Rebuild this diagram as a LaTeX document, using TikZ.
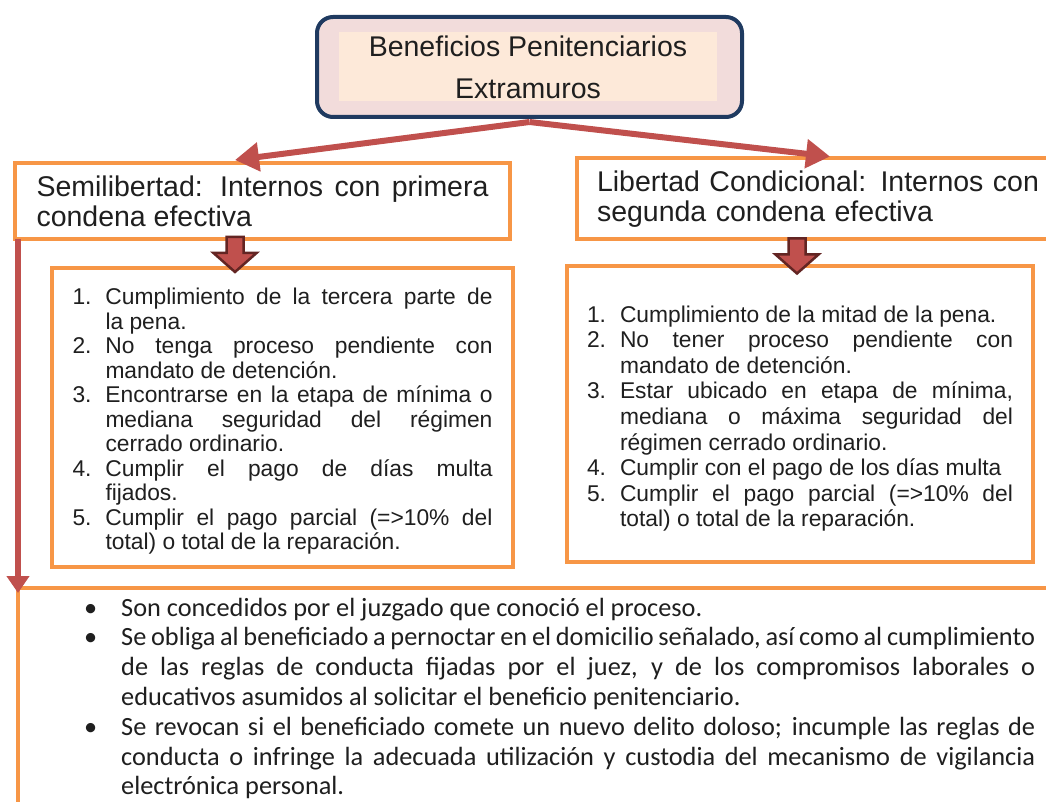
\documentclass[tikz,border=0pt]{standalone}
\usepackage{fontspec}
\setmainfont{Liberation Sans}
\newfontfamily\calfont{Carlito}
\usetikzlibrary{arrows.meta,calc}
\definecolor{orng}{HTML}{F79646}
\definecolor{redc}{HTML}{C0504D}
\definecolor{darkred}{HTML}{632523}
\definecolor{navy}{HTML}{1F3A60}
\definecolor{pinkf}{HTML}{F2DCDB}
\definecolor{peach}{HTML}{FDE9D9}
\newcommand{\litem}[2]{\par\noindent\hangindent=33pt\hangafter=1\makebox[33pt][l]{#1.}#2\par}
\newcommand{\bitem}[1]{\par\noindent\hangindent=39pt\hangafter=1\makebox[39pt][l]{\kern2pt\textbullet}#1\par}
\begin{document}
\begin{tikzpicture}[x=1pt,y=-1pt,
  nohy/.style={execute at begin node={\hyphenpenalty=10000\exhyphenpenalty=10000\tolerance=9999\emergencystretch=20pt}},
  obox/.style={draw=orng, line width=4pt, fill=white, outer sep=0pt, inner sep=0pt, nohy},
  hfont/.style={font=\fontsize{28.5}{30}\selectfont},
  lfont/.style={font=\fontsize{22.8}{24.5}\selectfont},
  redarrow/.style={draw=redc, line width=6pt, -{Triangle[length=24pt,width=28pt]}},
  downarrow/.style={draw=redc, line width=6pt, -{Triangle[length=17pt,width=22pt]}},
  blk/.style={fill=redc, draw=darkred, line width=2.5pt, line join=miter}
]
\useasboundingbox (0,0) rectangle (1046,802);
\clip (0,0) rectangle (1046,802);

% top box
\node[draw=navy, line width=4pt, fill=pinkf, rounded corners=16pt, minimum width=425pt, minimum height=100pt, outer sep=0pt] (top) at (529.5,67) {};
\node[fill=peach, minimum width=378pt, minimum height=69pt, inner sep=0pt, align=center, font=\fontsize{28.5}{42}\selectfont, text=black!88] (toptext) at (528,67) {Beneficios Penitenciarios\\Extramuros};

% level 2
\node[obox, hfont, text=black!88, minimum width=495pt, minimum height=76pt, text width=452pt, align=justify] (semi) at (262.5,201) {Semilibertad: Internos con primera condena efectiva};
\node[obox, hfont, text=black!88, minimum width=500pt, minimum height=81pt, text width=460pt, align=left] (lib) at (827,199) {Libertad Condicional: Internos con\\segunda condena efectiva};

% lists
\node[obox, lfont, text=black!88, minimum width=461pt, minimum height=299pt, text width=420pt, align=justify] (lista) at (282.5,417.5) {%
\litem{1}{Cumplimiento de la tercera parte de\linebreak la pena.}
\litem{2}{No tenga proceso pendiente con\linebreak mandato de detención.}
\litem{3}{Encontrarse en la etapa de mínima o\linebreak mediana seguridad del régimen\linebreak cerrado ordinario.}
\litem{4}{Cumplir el pago de días multa\linebreak fijados.}
\litem{5}{Cumplir el pago parcial (=>10\% del\linebreak total) o total de la reparación.}};
\node[obox, text=black!88, font=\fontsize{22.8}{25.6}\selectfont, minimum width=466pt, minimum height=295pt, text width=426pt, align=justify] (listb) at (800,414) {%
\litem{1}{Cumplimiento de la mitad de la pena.}
\litem{2}{No tener proceso pendiente con\linebreak mandato de detención.}
\litem{3}{Estar ubicado en etapa de mínima,\linebreak mediana o máxima seguridad del\linebreak régimen cerrado ordinario.}
\litem{4}{Cumplir con el pago de los días multa}
\litem{5}{Cumplir el pago parcial (=>10\% del\linebreak total) o total de la reparación.}};

% bottom box
\node[obox, anchor=north west, minimum width=1060pt, minimum height=260pt] (bot) at (18,588) {};
\node[anchor=north west, inner sep=0pt, text width=953pt, align=justify, nohy, text=black!88, font=\calfont\fontsize{26.3}{29.8}\selectfont] (bullets) at (82,586) {%
\bitem{Son concedidos por el juzgado que conoció el proceso.}
\bitem{Se obliga al beneficiado a pernoctar en el domicilio señalado, así como al cumplimiento de las reglas de conducta fijadas por el juez, y de los compromisos laborales o educativos asumidos al solicitar el beneficio penitenciario.}
\bitem{Se revocan si el beneficiado comete un nuevo delito doloso; incumple las reglas de conducta o infringe la adecuada utilización y custodia del mecanismo de vigilancia electrónica personal.}};

% connectors
\draw[redarrow] ([yshift=-5pt]top.south) -- ([xshift=-27.5pt,yshift=3pt]semi.north);
\draw[redarrow] ([yshift=-5pt]top.south) -- ([xshift=3pt,yshift=2pt]lib.north);
\draw[downarrow] ([xshift=3pt]semi.south west) -- ([yshift=-5pt]bot.north west);

% block arrows
\draw[blk] ([xshift=-27.5pt]semi.south) ++(-8.5,-2) -- ++(0,16) -- ++(-13,0) -- ++(21.5,19) -- ++(21.5,-19) -- ++(-13,0) -- ++(0,-16) -- cycle;
\draw[blk] ([xshift=-30pt]lib.south) ++(-8.5,-1) -- ++(0,16) -- ++(-13,0) -- ++(21.5,19) -- ++(21.5,-19) -- ++(-13,0) -- ++(0,-16) -- cycle;
\end{tikzpicture}
\end{document}
